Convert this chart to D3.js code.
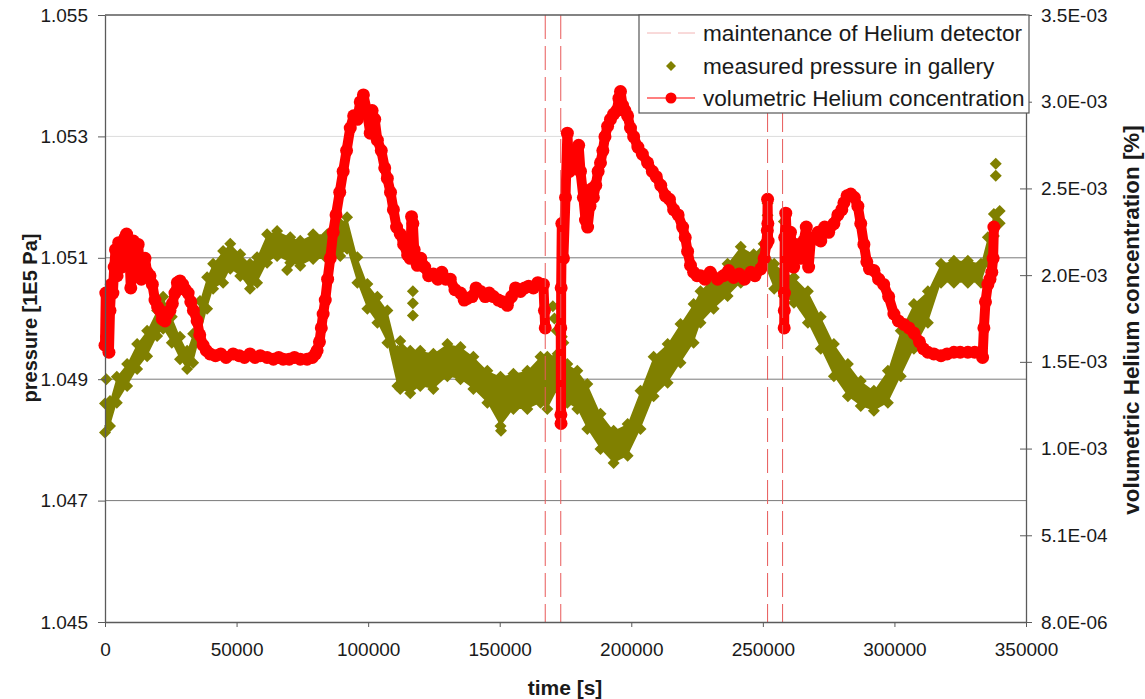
<!DOCTYPE html>
<html>
<head>
<meta charset="utf-8">
<script src="https://cdn.jsdelivr.net/npm/d3@7"></script>
<style>
  body { margin: 0; background: #fff; }
  svg text { font-family: "Liberation Sans", Arial, sans-serif; fill: #1a1a1a; }
</style>
</head>
<body>
<svg id="chart" width="1145" height="699"></svg>
<script>
// ---- data ----
const timeTicks = [0, 50000, 100000, 150000, 200000, 250000, 300000, 350000];
const pressureTicks = [1.045, 1.047, 1.049, 1.051, 1.053, 1.055];
const heliumTickLabels = ["8.0E-06", "5.1E-04", "1.0E-03", "1.5E-03", "2.0E-03", "2.5E-03", "3.0E-03", "3.5E-03"];
const heliumMin = 8.0e-6, heliumMax = 3.5e-3;

// maintenance of the helium detector (dashed verticals)
const maintTimes = [167300, 173200, 251800, 257500];

// measured pressure: band edges (1E5 Pa)
const pTime = [0,1900,4500,8400,12200,16000,19800,22100,25400,28500,31200,33500,36100,38800,41100,44900,47600,51400,55100,57800,61600,65400,70400,74200,79100,84500,89400,92000,95900,99700,103500,107300,111100,112200,116000,119800,124800,130100,135100,140000,145300,150300,155200,160500,165500,168100,172000,175700,179500,183300,188300,193300,198600,203500,208500,213800,218700,223700,226300,231300,236600,241600,246500,250300,254300,257900,261800,267100,272000,277000,282300,287200,292200,297500,302400,307400,312700,317700,322600,327900,332900,335500,337800,340000];
const pLow = [1.04812,1.04823,1.04861,1.04889,1.04917,1.04938,1.04971,1.04983,1.04960,1.04933,1.04917,1.04927,1.04971,1.05016,1.05049,1.05059,1.05082,1.05070,1.05049,1.05059,1.05092,1.05103,1.05092,1.05087,1.05098,1.05098,1.05103,1.05115,1.05059,1.05016,1.04993,1.04960,1.04889,1.04884,1.04877,1.04889,1.04884,1.04905,1.04900,1.04884,1.04861,1.04823,1.04851,1.04851,1.04861,1.04851,1.04884,1.04861,1.04851,1.04818,1.04785,1.04762,1.04774,1.04818,1.04872,1.04894,1.04927,1.04960,1.04993,1.05016,1.05037,1.05059,1.05070,1.05092,1.05049,1.05037,1.05026,1.04993,1.04950,1.04905,1.04872,1.04856,1.04848,1.04861,1.04905,1.04950,1.04993,1.05059,1.05059,1.05059,1.05059,1.05092,1.05136,1.05157];
const pHigh = [1.04860,1.04864,1.04904,1.04925,1.04958,1.04980,1.05013,1.05036,1.05003,1.04970,1.04947,1.04975,1.05029,1.05068,1.05090,1.05111,1.05123,1.05106,1.05090,1.05101,1.05139,1.05144,1.05134,1.05128,1.05139,1.05139,1.05156,1.05167,1.05101,1.05057,1.05036,1.05013,1.04947,1.04963,1.04947,1.04947,1.04942,1.04958,1.04953,1.04937,1.04914,1.04904,1.04909,1.04914,1.04937,1.04937,1.04942,1.04925,1.04914,1.04892,1.04843,1.04815,1.04826,1.04881,1.04937,1.04958,1.04991,1.05024,1.05045,1.05068,1.05090,1.05118,1.05106,1.05123,1.05090,1.05078,1.05068,1.05045,1.05003,1.04958,1.04925,1.04897,1.04881,1.04914,1.04980,1.05024,1.05045,1.05090,1.05095,1.05095,1.05090,1.05134,1.05172,1.05177];
// stray pressure readings
const poTime  = [500, 69200, 117000, 117000, 117000, 150500, 170200, 170800, 171600, 172600, 173600, 174200, 251800, 251800, 251800, 258000, 338500, 338500];
const poValue = [1.0490, 1.0508, 1.05045, 1.05025, 1.05005, 1.04815, 1.0502, 1.0500, 1.0498, 1.0502, 1.0497, 1.0496, 1.0519, 1.0517, 1.0515, 1.0516, 1.05255, 1.05235];

// volumetric helium concentration, in units of 1E-03 % (null = no data)
const heUnit = 1e-3;
const heTime = [0,300,700,1100,1500,1900,2400,3000,3500,4000,4600,5200,5700,6300,7000,7600,8200,8800,9300,9800,10300,10800,11500,12200,12600,13200,13800,14400,15200,16000,17100,18000,19000,20000,20900,21800,22800,23800,24700,25600,26600,27500,28500,29500,30500,31600,32600,33600,35000,36000,37300,38500,39900,42000,44000,46000,48700,51000,53000,55100,57000,59000,61600,64000,66000,67700,70000,72000,74200,76800,78800,80000,80600,81500,82200,82900,83700,84600,85600,86700,87800,89200,90500,91800,93200,94500,95900,97000,98200,99500,100800,101500,102500,103500,105000,106300,107300,108500,109600,110800,112200,113500,115000,116000,116500,117000,117500,118700,120000,121500,123000,124800,126500,128000,129500,131200,133000,135100,136500,137700,139500,141000,142700,144500,146000,147600,149500,151000,152900,154500,156000,157900,159500,161000,162800,164500,166600,167000,167300,170000,173200,173250,173300,173350,173600,174200,175000,175700,176500,177200,178000,179000,180000,180700,181800,182600,183400,184300,185000,185600,186500,187400,188300,189200,190000,191000,192100,193300,194500,195300,195900,196700,197600,198600,199700,200900,202500,204200,206200,208000,209500,211200,213000,214500,216100,217800,219500,220500,221400,222500,223700,225000,226300,228000,230000,232800,235000,237000,238900,241000,243000,245400,247000,249200,250500,251300,251700,251800,251900,252000,255000,258100,258150,258200,258300,258700,259400,260500,261700,262500,263300,264400,265500,266500,267400,268200,269500,271000,272000,273500,275000,277000,278500,280000,280800,282000,283400,284800,286100,287200,288400,289500,290500,292200,294000,295900,297800,299800,301500,303600,305500,307400,309500,311000,312700,315000,317700,320000,322600,325000,327900,330500,332900,333500,334000,334600,335500,336300,337000,337500,337800];
const heValue = [1.60,1.90,1.65,1.85,1.56,1.80,1.95,1.90,2.05,2.15,2.00,2.19,2.15,2.05,2.10,2.22,2.24,2.20,2.12,1.93,2.10,2.20,2.18,2.10,2.18,2.05,1.98,2.08,2.10,2.02,2.00,1.95,1.86,1.82,1.80,1.75,1.74,1.78,1.80,1.84,1.90,1.96,1.97,1.95,1.92,1.90,1.85,1.80,1.74,1.66,1.60,1.57,1.55,1.54,1.55,1.53,1.55,1.54,1.53,1.55,1.53,1.54,1.53,1.52,1.53,1.52,1.52,1.53,1.52,1.52,1.53,1.55,1.57,1.62,1.70,1.78,1.86,1.98,2.10,2.25,2.35,2.48,2.60,2.72,2.85,2.92,2.90,3.00,3.04,2.95,2.82,2.95,2.90,2.78,2.72,2.62,2.56,2.48,2.38,2.28,2.24,2.18,2.12,2.10,2.34,2.30,2.15,2.06,2.10,2.05,2.00,2.01,1.98,2.02,1.98,1.98,1.92,1.90,1.86,1.87,1.88,1.93,1.91,1.88,1.90,1.88,1.86,1.85,1.83,1.88,1.93,1.91,1.93,1.94,1.93,1.96,1.95,1.80,1.70,null,1.70,1.20,1.15,1.93,2.30,2.10,2.45,2.82,2.60,2.70,2.72,2.65,2.75,2.60,2.45,2.32,2.28,2.40,2.50,2.45,2.52,2.60,2.65,2.72,2.80,2.86,2.90,2.93,2.95,3.02,3.06,2.98,2.95,2.92,2.85,2.80,2.74,2.70,2.65,2.60,2.57,2.52,2.46,2.44,2.38,2.35,2.28,2.22,2.14,2.06,2.02,2.00,2.00,1.98,2.02,1.98,2.00,2.03,1.99,2.01,1.98,2.02,2.00,2.04,2.10,2.18,2.26,2.44,2.30,2.20,null,1.70,1.80,1.90,2.22,2.36,2.10,2.25,2.05,2.18,2.15,2.10,2.20,2.28,2.05,2.20,2.22,2.25,2.20,2.28,2.25,2.30,2.35,2.38,2.42,2.46,2.47,2.45,2.40,2.30,2.18,2.08,2.04,2.03,1.98,1.95,1.88,1.78,1.74,1.72,1.70,1.67,1.62,1.58,1.56,1.55,1.54,1.55,1.56,1.56,1.56,1.56,1.56,1.53,1.70,1.85,1.95,1.98,2.02,2.10,2.28];

const legendLabels = ["maintenance of Helium detector", "measured pressure in gallery", "volumetric Helium concentration"];

// ---- chart ----
const olive = "#808000", red = "#ff0000";
const svg = d3.select("#chart");
svg.append("rect").attr("width", 1145).attr("height", 699).attr("fill", "#fff");

const x = d3.scaleLinear().domain([0, 350000]).range([105, 1026]);
const yP = d3.scaleLinear().domain([1.045, 1.055]).range([622, 15]);
const yH = d3.scaleLinear().domain([heliumMin, heliumMax]).range([622, 15]);
const heliumTicks = heliumTickLabels.map((d, i) => heliumMin + i * (heliumMax - heliumMin) / 7);

// gridlines
svg.append("g").selectAll("line")
  .data(pressureTicks.slice(1, -1))
  .join("line")
    .attr("x1", x(0)).attr("x2", x(350000))
    .attr("y1", d => yP(d)).attr("y2", d => yP(d))
    .attr("stroke", d => d === 1.053 ? "#dcdcdc" : "#7a7a7a")
    .attr("stroke-width", 1);

// pressure band
const pRows = pTime.map((t, i) => ({t: t, lo: pLow[i], hi: pHigh[i]}));
svg.append("path")
  .datum(pRows)
  .attr("fill", olive)
  .attr("d", d3.area().x(d => x(d.t)).y0(d => yP(d.lo)).y1(d => yP(d.hi)));

const diamond = r => `M0,${-r}L${r},0L0,${r}L${-r},0Z`;
const pPoints = pRows.flatMap(d => [{t: d.t, v: d.lo}, {t: d.t, v: d.hi}])
  .concat(poTime.map((t, i) => ({t: t, v: poValue[i]})));
svg.append("g").selectAll("path")
  .data(pPoints)
  .join("path")
    .attr("d", diamond(6))
    .attr("transform", d => `translate(${x(d.t)},${yP(d.v)})`)
    .attr("fill", olive);

// helium series
const heRows = heTime.map((t, i) => ({t: t, v: heValue[i] == null ? null : heValue[i] * heUnit}));
svg.append("path")
  .datum(heRows)
  .attr("fill", "none")
  .attr("stroke", red)
  .attr("stroke-width", 10)
  .attr("stroke-linejoin", "round")
  .attr("stroke-linecap", "round")
  .attr("d", d3.line().defined(d => d.v != null).x(d => x(d.t)).y(d => yH(d.v)));
svg.append("g").selectAll("circle")
  .data(heRows.filter(d => d.v != null))
  .join("circle")
    .attr("cx", d => x(d.t)).attr("cy", d => yH(d.v))
    .attr("r", 6.5)
    .attr("fill", red);

// maintenance lines
svg.append("g").selectAll("line")
  .data(maintTimes)
  .join("line")
    .attr("x1", d => x(d)).attr("x2", d => x(d))
    .attr("y1", yP(1.055)).attr("y2", yP(1.045))
    .attr("stroke", "#e85a5a")
    .attr("stroke-width", 1)
    .attr("stroke-dasharray", "24,7");

// axes
const styleAxis = g => {
  g.select(".domain").attr("stroke", "#5a5a5a").attr("stroke-width", 1.3);
  g.selectAll(".tick line").attr("stroke", "#5a5a5a");
  g.selectAll(".tick text").attr("font-size", 19).attr("fill", "#222");
};

svg.append("line")
  .attr("x1", x(0)).attr("x2", x(350000))
  .attr("y1", yP(1.055)).attr("y2", yP(1.055))
  .attr("stroke", "#5a5a5a").attr("stroke-width", 1.3);

svg.append("g")
  .attr("transform", `translate(${x(0)},0)`)
  .call(d3.axisLeft(yP).tickValues(pressureTicks).tickFormat(d3.format(".3f"))
    .tickSize(7).tickSizeOuter(0).tickPadding(10))
  .call(styleAxis);

svg.append("g")
  .attr("transform", `translate(0,${yP(1.045)})`)
  .call(d3.axisBottom(x).tickValues(timeTicks).tickFormat(d3.format("d"))
    .tickSize(5).tickSizeOuter(0).tickPadding(16))
  .call(styleAxis);

svg.append("g")
  .attr("transform", `translate(${x(350000)},0)`)
  .call(d3.axisRight(yH).tickValues(heliumTicks).tickFormat((d, i) => heliumTickLabels[i])
    .tickSize(6).tickSizeOuter(0).tickPadding(9))
  .call(styleAxis)
  .call(g => g.selectAll(".tick line").attr("x1", -6));

// axis titles
svg.append("text")
  .attr("transform", "translate(30,318) rotate(-90)")
  .attr("text-anchor", "middle").attr("dominant-baseline", "central")
  .attr("font-size", 20).attr("font-weight", "bold")
  .text("pressure [1E5 Pa]");
svg.append("text")
  .attr("transform", "translate(1131,320) rotate(-90)")
  .attr("text-anchor", "middle").attr("dominant-baseline", "central")
  .attr("font-size", 22.4).attr("font-weight", "bold")
  .text("volumetric Helium concentration [%]");
svg.append("text")
  .attr("x", 565).attr("y", 687)
  .attr("text-anchor", "middle").attr("dominant-baseline", "central")
  .attr("font-size", 21).attr("font-weight", "bold")
  .text("time [s]");

// legend
const legend = svg.append("g");
legend.append("rect")
  .attr("x", 639).attr("y", 15).attr("width", 390).attr("height", 98)
  .attr("fill", "#fff").attr("stroke", "#555").attr("stroke-width", 1.2);
const rowY = [33, 66, 98];
legend.append("line")
  .attr("x1", 647).attr("x2", 695).attr("y1", rowY[0]).attr("y2", rowY[0])
  .attr("stroke", "#f2b4b4").attr("stroke-width", 1).attr("stroke-dasharray", "24,7");
legend.append("path")
  .attr("d", diamond(5)).attr("transform", `translate(671,${rowY[1]})`).attr("fill", olive);
legend.append("line")
  .attr("x1", 647).attr("x2", 695).attr("y1", rowY[2]).attr("y2", rowY[2])
  .attr("stroke", red).attr("stroke-width", 1.2);
legend.append("circle").attr("cx", 671).attr("cy", rowY[2]).attr("r", 5.5).attr("fill", red);
legend.selectAll("text")
  .data(legendLabels)
  .join("text")
    .attr("x", 703).attr("y", (d, i) => rowY[i])
    .attr("dominant-baseline", "central")
    .attr("font-size", 22.6)
    .text(d => d);
</script>
</body>
</html>
